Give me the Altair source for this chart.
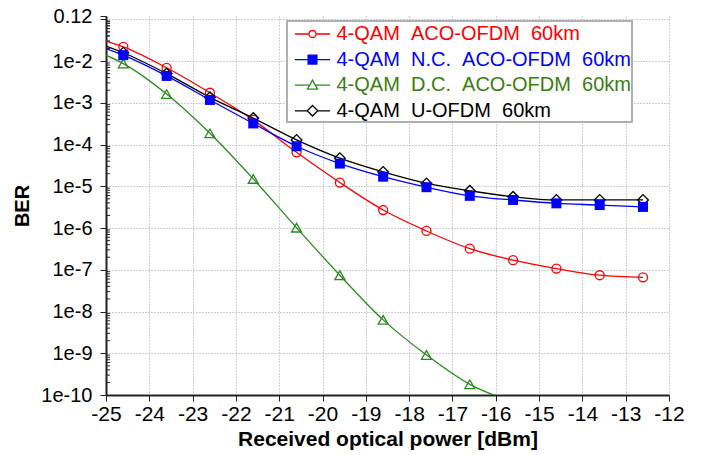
import altair as alt
import pandas as pd

# ---- data ----
SERIES = [
    "4-QAM ACO-OFDM 60km",
    "4-QAM N.C. ACO-OFDM 60km",
    "4-QAM D.C. ACO-OFDM 60km",
    "4-QAM U-OFDM 60km",
]
COLORS = ["#ff0000", "#0000ff", "#2a8a1e", "#000000"]
LABEL_COLORS = ["#ff0000", "#0000ff", "#3a7d12", "#000000"]

X_POWER = [-25.0, -24.6, -23.6, -22.6, -21.6, -20.6, -19.6, -18.6, -17.6, -16.6, -15.6, -14.6, -13.6, -12.6]
BER_ACO = [3.0e-2, 2.19e-2, 6.9e-3, 1.74e-3, 3.9e-4, 6.5e-5, 1.23e-5, 2.7e-6, 8.5e-7, 3.2e-7, 1.7e-7, 1.07e-7, 7.4e-8, 6.6e-8]
BER_NC = [2.0e-2, 1.38e-2, 4.4e-3, 1.17e-3, 3.2e-4, 9.1e-5, 3.5e-5, 1.7e-5, 9.5e-6, 5.9e-6, 4.7e-6, 3.9e-6, 3.55e-6, 3.2e-6]
BER_DC = [1.38e-2, 8.7e-3, 1.62e-3, 1.86e-4, 1.5e-5, 1.02e-6, 7.4e-8, 6.3e-9, 9.1e-10, 1.8e-10, 6.8e-11]
BER_U = [2.29e-2, 1.58e-2, 5.0e-3, 1.35e-3, 4.3e-4, 1.29e-4, 4.7e-5, 2.2e-5, 1.17e-5, 7.8e-6, 5.6e-6, 4.7e-6, 4.7e-6, 4.7e-6]

X_TICKS = [-25, -24, -23, -22, -21, -20, -19, -18, -17, -16, -15, -14, -13, -12]
Y_TICKS = [1e-10, 1e-9, 1e-8, 1e-7, 1e-6, 1e-5, 1e-4, 1e-3, 1e-2, 1e-1, 0.12]
Y_MINOR = [m * 10.0 ** e for e in range(-10, -1) for m in range(2, 10)] + [0.02 * k / 2 for k in range(2, 10)]

# legend symbols: line segment + marker (unit path coordinates)
LEGEND_PATHS = [
    "M-1.6,0H-0.32M0.32,0H1.6M-0.32,0A0.32,0.32,0,1,0,0.32,0A0.32,0.32,0,1,0,-0.32,0Z",
    "M-1.6,0H-0.4M0.4,0H1.6M-0.4,-0.4H0.4V0.4H-0.4Z",
    "M-1.6,0H-0.26M0.26,0H1.6M0,-0.46L0.46,0.36L-0.46,0.36Z",
    "M-1.6,0H-0.48M0.48,0H1.6M-0.48,0L0,-0.48L0.48,0L0,0.48Z",
]
LEGEND_FILLS = ["white", "#0000ff", "white", "white"]

rows = []
for name, ys in zip(SERIES, [BER_ACO, BER_NC, BER_DC, BER_U]):
    for x, y in zip(X_POWER, ys):
        rows.append({"series": name, "x": x, "ber": y})
df = pd.DataFrame(rows)
df["marker"] = (df["x"] > -24.9) & (df["ber"] >= 1e-10)

FONT = "Liberation Sans"

x_enc = alt.X(
    "x:Q",
    scale=alt.Scale(domain=[-25, -12], nice=False, zero=False),
    axis=alt.Axis(
        values=X_TICKS,
        labelExpr="'' + datum.value",
        title="Received optical power [dBm]",
        titleFont=FONT, titleFontSize=21, titleFontWeight="bold", titleColor="black",
        titlePadding=4,
        labelFont=FONT, labelFontSize=21, labelColor="black", labelPadding=2,
        tickSize=6, tickColor="#222", tickWidth=1,
        domainColor="#222", domainWidth=2,
        grid=True, gridDash=[1, 2], gridColor="#a0a0a0", gridWidth=1,
        labelFlush=False, labelOverlap=False,
    ),
)
y_enc = alt.Y(
    "ber:Q",
    scale=alt.Scale(type="log", domain=[1e-10, 0.12], nice=False),
    axis=alt.Axis(
        values=Y_TICKS,
        labelExpr="datum.value > 0.11 ? '0.12' : (datum.value > 0.05 ? '' : '1e-' + round(-log(datum.value) / LN10))",
        title="BER",
        titleFont=FONT, titleFontSize=20, titleFontWeight="bold", titleColor="black",
        titlePadding=8,
        labelFont=FONT, labelFontSize=20, labelColor="black", labelPadding=8,
        tickSize=6, tickColor="#222", tickWidth=1,
        domainColor="#222", domainWidth=2,
        grid=True, gridDash=[1, 2], gridColor="#a0a0a0", gridWidth=1,
        gridOpacity={"condition": {"test": "datum.value > 0.11", "value": 0}, "value": 1},
        labelFlush=False, labelOverlap=False,
    ),
)

base = alt.Chart(df)


def series_line(idx):
    return base.transform_filter(alt.datum.series == SERIES[idx]).mark_line(
        strokeWidth=1.3, interpolate="monotone", clip=True, color=COLORS[idx]
    ).encode(x=x_enc, y=y_enc)


def markers(idx, shape, size, filled):
    return base.transform_filter(
        alt.datum.series == SERIES[idx]
    ).transform_filter(alt.datum.marker).mark_point(
        shape=shape, size=size, filled=filled, opacity=1, strokeWidth=1.3,
        color=COLORS[idx], clip=True,
    ).encode(x=x_enc, y=y_enc)


m_red = markers(0, "circle", 81, False)
m_green = markers(2, "triangle-up", 100, False)
m_black = markers(3, "diamond", 115, False)
m_blue = markers(1, "square", 100, True)

minor_df = pd.DataFrame({"ber": Y_MINOR})
minor = alt.Chart(minor_df).mark_rule(color="#222", strokeWidth=1).encode(
    y=alt.Y("ber:Q", scale=alt.Scale(type="log", domain=[1e-10, 0.12], nice=False)),
    x=alt.value(0), x2=alt.value(4),
)

label_color_expr = "[" + ", ".join("'%s'" % c for c in LABEL_COLORS) + "][datum.index]"

leg = alt.Legend(
    title=None, orient="none", legendX=181, legendY=5,
    fillColor="white", strokeColor="#b0b0b0", padding=1,
    symbolSize=484, symbolStrokeWidth=1.3, symbolOffset=12.5, symbolOpacity=1,
    labelOffset=12, labelFont=FONT, labelFontSize=20, labelLimit=600,
    labelColor={"expr": label_color_expr},
    labelExpr="join(split(datum.label, ' '), '\u00a0\u00a0') + '\u00a0\u00a0\u00a0\u00a0\u00a0\u00a0'",
    rowPadding=3.6,
)
legend_layer = base.transform_filter(alt.datum.marker).mark_point(opacity=0, strokeWidth=1.3, size=484).encode(
    x=x_enc, y=y_enc,
    stroke=alt.Stroke("series:N", scale=alt.Scale(domain=SERIES, range=COLORS), legend=leg),
    fill=alt.Fill("series:N", scale=alt.Scale(domain=SERIES, range=LEGEND_FILLS), legend=leg),
    shape=alt.Shape("series:N", scale=alt.Scale(domain=SERIES, range=LEGEND_PATHS), legend=leg),
)

chart = alt.layer(
    minor, series_line(2), series_line(0), series_line(3), series_line(1),
    legend_layer, m_red, m_green, m_black, m_blue,
).properties(
    width=563, height=379,
    autosize=alt.AutoSizeParams(type="none"),
    padding={"left": 106, "top": 16, "right": 37, "bottom": 60},
    background="white",
).configure_view(stroke=None).configure_legend(strokeWidth=2)

chart.save("out.html", embed_options={"renderer": "svg", "actions": False})
